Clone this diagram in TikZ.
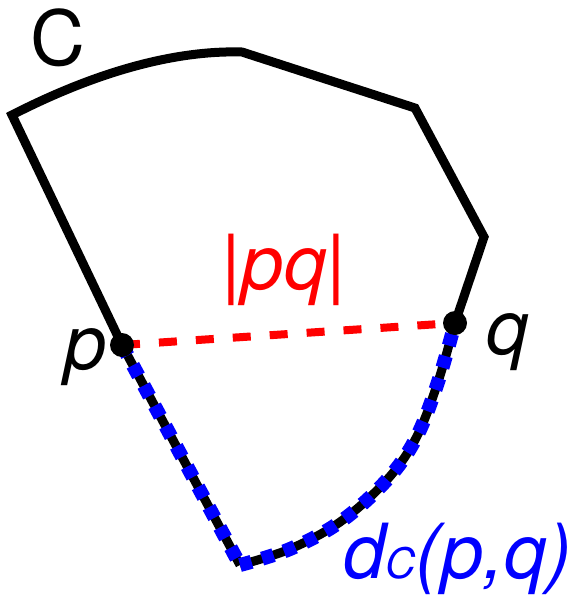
\documentclass[tikz,border=0pt]{standalone}
\usepackage{fontspec}
\setmainfont{TeX Gyre Heros}
\begin{document}
\begin{tikzpicture}[x=1pt,y=-1pt,
  curve/.style={line width=9pt,line join=miter,black},
  chord/.style={line width=8pt,red,dash pattern=on 18pt off 19pt},
  geod/.style={line width=14pt,blue,dash pattern=on 12pt off 11pt},
  dot/.style={circle,fill=black,minimum size=24pt,inner sep=0pt},
  lbl/.style={inner sep=0pt,font=\fontsize{76}{80}\selectfont\itshape}]
\useasboundingbox (0,0) rectangle (586,595);
\coordinate (p) at (122,345);
\coordinate (q) at (455,323);
\coordinate (a) at (12,115);
\coordinate (b) at (242,52);
\coordinate (c) at (415,108);
\coordinate (d) at (484,237);
\coordinate (e) at (240,565);
% convex curve C
\draw[curve] (p) -- (a) .. controls (90,75) and (170,50) .. (b) -- (c) -- (d) -- (q);
\draw[curve] (p) -- (e) plot[smooth,tension=0.6] coordinates {(240,565) (290,549) (340,522) (385,482) (415,440) (437,385) (455,323)};
% geodesic along C
\draw[geod] (p) -- (e) plot[smooth,tension=0.6] coordinates {(240,565) (290,549) (340,522) (385,482) (415,440) (437,385) (455,323)};
% chord
\draw[chord] (p) -- (q);
\node[dot] (pd) at (p) {};
\node[dot] (qd) at (q) {};
% labels
\node[lbl,font=\fontsize{76}{80}\selectfont] (lC) at (58,38) {C};
\node[lbl,text=red] (lpq) at (284,270) {|pq|};
\node[lbl] (lp) at (86,357) {p};
\node[lbl] (lq) at (508,342) {q};
\node[lbl,text=blue,anchor=base west] (ld) at (343,578) {d{\fontsize{42}{44}\selectfont C}(p,q)};
\end{tikzpicture}
\end{document}
